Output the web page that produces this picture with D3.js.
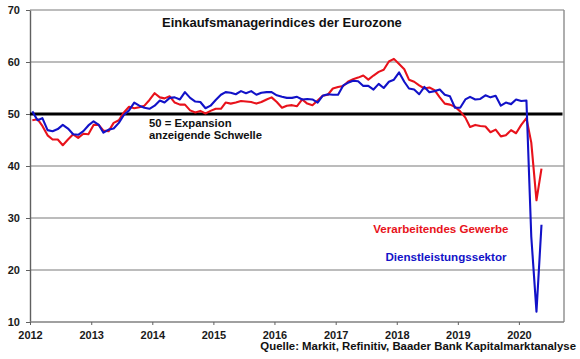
<!DOCTYPE html>
<html><head><meta charset="utf-8">
<script src="https://cdn.jsdelivr.net/npm/d3@7"></script>
<style>
html,body{margin:0;padding:0;background:#fff;}
svg{display:block;font-family:"Liberation Sans",Arial,sans-serif;font-weight:bold;}
</style></head>
<body><svg id="c" width="580" height="359"></svg>
<script>
// Data (monthly, Jan 2012 - May 2020)
const startMonth = "2012-01";
const manufacturing = [
 48.8,49.0,47.7,45.9,45.1,45.1,44.0,45.1,46.1,45.4,46.2,46.1,
 47.9,47.9,46.8,46.7,48.3,48.8,50.3,51.4,51.1,51.3,51.6,52.7,
 54.0,53.2,53.0,53.4,52.2,51.8,51.8,50.7,50.3,50.6,50.1,50.6,
 51.0,51.0,52.2,52.0,52.2,52.5,52.4,52.3,52.0,52.3,52.8,53.2,
 52.3,51.2,51.6,51.7,51.5,52.8,52.0,51.7,52.6,53.5,53.7,54.9,
 55.2,55.4,56.2,56.7,57.0,57.4,56.6,57.4,58.1,58.5,60.1,60.6,
 59.6,58.6,56.6,56.2,55.5,54.9,55.1,54.6,53.2,52.0,51.8,51.4,
 50.5,49.3,47.5,47.9,47.7,47.6,46.5,47.0,45.7,45.9,46.9,46.3,
 47.9,49.2,44.5,33.4,39.5
];
const services = [
 50.5,48.8,49.2,46.9,46.7,47.1,47.9,47.2,46.1,46.0,46.7,47.8,
 48.6,47.9,46.4,47.0,47.2,48.3,49.8,50.7,52.2,51.6,51.2,51.0,
 51.6,52.6,52.2,53.1,53.2,52.8,54.2,53.1,52.4,52.3,51.1,51.6,
 52.7,53.7,54.2,54.1,53.8,54.4,54.0,54.4,53.7,54.1,54.2,54.2,
 53.6,53.3,53.1,53.1,53.3,52.8,52.9,52.8,52.2,53.5,53.8,53.7,
 53.7,55.5,56.0,56.4,56.3,55.4,55.4,54.7,55.8,55.0,56.2,56.6,
 58.0,56.2,54.9,54.7,53.8,55.2,54.2,54.4,54.7,53.7,53.4,51.2,
 51.2,52.8,53.3,52.8,52.9,53.6,53.2,53.5,51.6,52.2,51.9,52.8,
 52.5,52.6,26.4,12.0,28.7
];
const yTicks = [10,20,30,40,50,60,70];
const xTickYears = [2012,2013,2014,2015,2016,2017,2018,2019,2020];
const title = "Einkaufsmanagerindices der Eurozone";
const seriesNames = ["Verarbeitendes Gewerbe","Dienstleistungssektor"];
const thresholdLabel = ["50 = Expansion","anzeigende Schwelle"];
const sourceText = "Quelle: Markit, Refinitiv, Baader Bank Kapitalmarktanalyse";

const RED = "#e8121b", BLUE = "#1212c8";
const svg = d3.select("#c");
const L = 30, R = 564.75, T = 10, B = 322;
const parse = d3.timeParse("%Y-%m");
const start = parse(startMonth);
const dates = manufacturing.map((_, i) => d3.timeDay.offset(d3.timeMonth.offset(start, i), 14));

const x = d3.scaleTime().domain([new Date(2012,0,1), new Date(2020,9,1)]).range([L, R]);
const y = d3.scaleLinear().domain([10,70]).range([B, T]);

// gridlines
svg.append("g").selectAll("line").data(yTicks.filter(v => v !== 10 && v !== 50)).join("line")
  .attr("x1", L).attr("x2", 564).attr("y1", d => y(d)).attr("y2", d => y(d))
  .attr("stroke", "#a6a6a6").attr("stroke-width", 1.6);

// right border
svg.append("line").attr("x1", 564).attr("x2", 564).attr("y1", T).attr("y2", B)
  .attr("stroke", "#8c8c8c").attr("stroke-width", 1.4);

// y axis
const yAxis = d3.axisLeft(y).tickValues(yTicks).tickSize(4).tickSizeOuter(0).tickPadding(6);
const gy = svg.append("g").attr("transform", `translate(${L},0)`).call(yAxis);
gy.select(".domain").attr("stroke", "#606060").attr("stroke-width", 1.4);
gy.selectAll(".tick line").attr("stroke", "#606060");
gy.selectAll("text").attr("font-size", 11).attr("font-weight", "bold").attr("fill", "#1a1a1a")
  .attr("font-family", "Liberation Sans, Arial, sans-serif");

// x axis
const xAxis = d3.axisBottom(x).tickValues(xTickYears.map(yr => new Date(yr,0,1)))
  .tickFormat(d3.timeFormat("%Y")).tickSize(3).tickSizeOuter(0).tickPadding(6);
const gx = svg.append("g").attr("transform", `translate(0,${B})`).call(xAxis);
gx.select(".domain").attr("stroke", "#808080").attr("stroke-width", 1.4).attr("d", `M${L},0H564`);
gx.selectAll(".tick line").attr("stroke", "#606060");
gx.selectAll("text").attr("font-size", 11).attr("font-weight", "bold").attr("fill", "#1a1a1a")
  .attr("font-family", "Liberation Sans, Arial, sans-serif");

// 50 threshold line
svg.append("line").attr("x1", L).attr("x2", 562.5).attr("y1", y(50)).attr("y2", y(50))
  .attr("stroke", "#000").attr("stroke-width", 2.8);

// series
const line = d3.line().x((d, i) => x(dates[i])).y(d => y(d));
svg.append("path").datum(manufacturing).attr("d", line).attr("fill", "none")
  .attr("stroke", RED).attr("stroke-width", 2.1).attr("stroke-linejoin", "round");
svg.append("path").datum(services).attr("d", line).attr("fill", "none")
  .attr("stroke", BLUE).attr("stroke-width", 2.1).attr("stroke-linejoin", "round");

// title
svg.append("text").attr("x", 162).attr("y", 27).attr("font-size", 13).attr("fill", "#111").text(title);

// threshold label
svg.append("text").attr("x", 149).attr("y", 126.5).attr("font-size", 11.3).attr("fill", "#111").text(thresholdLabel[0]);
svg.append("text").attr("x", 149).attr("y", 138.5).attr("font-size", 11.3).attr("fill", "#111").text(thresholdLabel[1]);

// legend labels
svg.append("text").attr("x", 508.5).attr("y", 232.5).attr("text-anchor", "end").attr("font-size", 11.6)
  .attr("fill", RED).text(seriesNames[0]);
svg.append("text").attr("x", 506.5).attr("y", 260.5).attr("text-anchor", "end").attr("font-size", 11.6)
  .attr("fill", BLUE).text(seriesNames[1]);

// source
svg.append("text").attr("x", 576).attr("y", 350).attr("text-anchor", "end").attr("font-size", 11.4)
  .attr("fill", "#111").text(sourceText);
</script></body></html>
